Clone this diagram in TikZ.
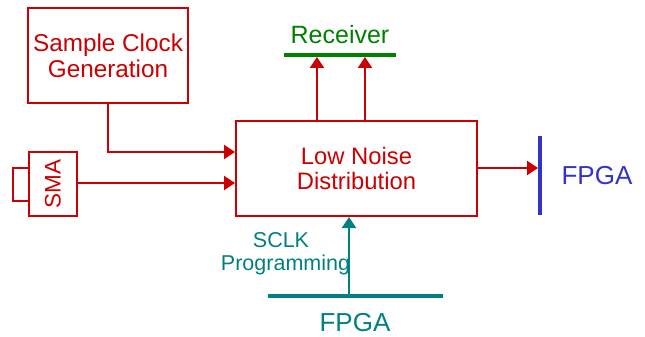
\documentclass[tikz,border=0pt]{standalone}
\usepackage{fontspec}
\setmainfont{Liberation Sans}
\usetikzlibrary{arrows.meta}
\definecolor{cred}{RGB}{204,0,0}
\definecolor{cgreen}{RGB}{0,128,0}
\definecolor{cblue}{RGB}{51,51,204}
\definecolor{cteal}{RGB}{0,128,128}
\begin{document}
\begin{tikzpicture}[x=1pt,y=-1pt,
  box/.style={draw=cred,line width=2pt,inner sep=0pt},
  tip/.style={-{Triangle[length=11pt,width=14pt]}},
  redarrow/.style={draw=cred,line width=2.4pt,tip},
  bar/.style={line width=4pt},
  lbl/.style={inner sep=0pt,align=center}]
\useasboundingbox (0,0) rectangle (645,337);
% boxes
\node[box,minimum width=160pt,minimum height=95pt] (scg) at (108,55.5) {};
\node[lbl,text=cred,font=\fontsize{24.3}{26}\selectfont] at (scg.center) {Sample Clock\\Generation};
\node[box,minimum width=241pt,minimum height=95pt] (lnd) at (356.5,168.5) {};
\node[lbl,text=cred,font=\fontsize{23.8}{25}\selectfont] at (lnd.center) {Low Noise\\Distribution};
\node[box,minimum width=48pt,minimum height=64pt] (sma) at (53,184) {};
\node[box,minimum width=16pt,minimum height=33pt] (conn) at (21,184.5) {};
\node[lbl,text=cred,rotate=90,font=\fontsize{22.5}{24}\selectfont] at (sma.center) {SMA};
% receiver
\coordinate (rl) at (284,55);
\coordinate (rr) at (396,55);
\draw[cgreen,bar] (rl) -- (rr);
\node[lbl,text=cgreen,font=\fontsize{25}{28}\selectfont] (rec) at (340,35) {Receiver};
\coordinate (ra) at (317,57);
\coordinate (rb) at (365,57);
\draw[redarrow] (lnd.north -| ra) -- (ra);
\draw[redarrow] (lnd.north -| rb) -- (rb);
% right FPGA
\coordinate (ft) at (540,136);
\coordinate (fb) at (540,215);
\draw[cblue,bar] (ft) -- (fb);
\node[lbl,text=cblue,font=\fontsize{26}{28}\selectfont] (fpgar) at (597,176) {FPGA};
\coordinate (fa) at (538,168);
\draw[redarrow] (lnd.east |- fa) -- (fa);
% inputs
\coordinate (in1) at (lnd.west |- 0,152);
\coordinate (in2) at (lnd.west |- 0,183);
\draw[redarrow] (scg.south -| 108,0) |- (in1);
\draw[redarrow] (sma.east |- in2) -- (in2);
% bottom FPGA
\coordinate (bl) at (268,296);
\coordinate (br) at (443,296);
\draw[cteal,bar] (bl) -- (br);
\coordinate (ba) at (349,294);
\draw[draw=cteal,line width=2.4pt,tip] (ba) -- (lnd.south -| ba);
\node[lbl,text=cteal,font=\fontsize{26}{28}\selectfont] (fpgab) at (355,323) {FPGA};
\node[lbl,text=cteal,font=\fontsize{21.5}{24}\selectfont] (sclk) at (281,240) {SCLK};
\node[lbl,text=cteal,font=\fontsize{21.5}{24}\selectfont] (prog) at (285.5,265) {Programming};
\end{tikzpicture}
\end{document}
